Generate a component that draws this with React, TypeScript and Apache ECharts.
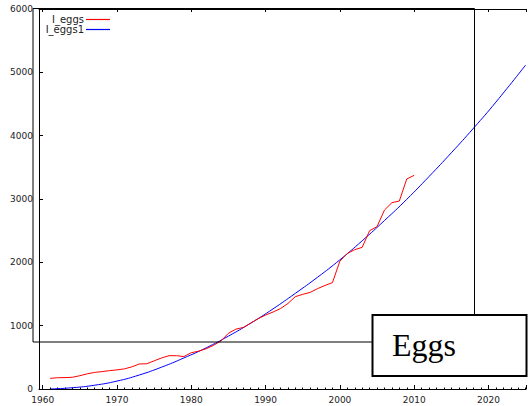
import React, { useEffect, useRef } from "react";
import * as echarts from "echarts";

const eggYears = [
  1961, 1962, 1963, 1964, 1965, 1966, 1967, 1968, 1969, 1970,
  1971, 1972, 1973, 1974, 1975, 1976, 1977, 1978, 1979, 1980,
  1981, 1982, 1983, 1984, 1985, 1986, 1987, 1988, 1989, 1990,
  1991, 1992, 1993, 1994, 1995, 1996, 1997, 1998, 1999, 2000,
  2001, 2002, 2003, 2004, 2005, 2006, 2007, 2008, 2009, 2010,
];
const eggValues = [
  168, 178, 180, 185, 210, 240, 262, 275, 290, 302,
  318, 350, 395, 398, 445, 490, 526, 526, 512, 573,
  598, 635, 690, 760, 880, 945, 972, 1040, 1110, 1168,
  1215, 1270, 1350, 1458, 1495, 1525, 1585, 1635, 1680, 2020,
  2140, 2200, 2237, 2500, 2563, 2826, 2942, 2968, 3316, 3374,
];
const fitYears = [
  1961, 1964, 1967, 1970, 1973, 1976, 1979, 1982, 1985, 1988, 1991,
  1994, 1997, 2000, 2003, 2006, 2009, 2012, 2015, 2018, 2021, 2025,
];
const fitValues = [
  0, 20, 60, 125, 221, 345, 490, 650, 835, 1040, 1265,
  1510, 1765, 2040, 2340, 2660, 2995, 3355, 3730, 4120, 4530, 5115,
];

const seriesNames = ["I_eggs", "I_eggs1"];
const seriesColors = ["#ff0000", "#0000ff"];
const boxLabel = "Eggs";

export default function App() {
  const ref = useRef<HTMLDivElement>(null);
  useEffect(() => {
    if (!ref.current) return;
    const chart = echarts.init(ref.current, null, { renderer: "svg" });
    const labelStyle = { fontSize: 9, color: "#222", fontFamily: "DejaVu Sans" };
    const xFmt = (v: number) => (Math.abs(v - Math.round(v / 10) * 10) < 1e-6 ? String(Math.round(v)) : "");
    chart.setOption({
      animation: false,
      backgroundColor: "#fff",
      grid: { left: 39, right: 1, top: 9, bottom: 17, containLabel: false },
      xAxis: [
        {
          type: "value",
          position: "bottom",
          min: 1959.5,
          max: 2025.05,
          splitNumber: 7,
          axisLine: { show: true, lineStyle: { color: "#000", width: 1 } },
          axisTick: { show: true, inside: true, length: 4, lineStyle: { color: "#000" } },
          minorTick: { show: true, splitNumber: 10, length: 1.5, lineStyle: { color: "#000" } },
          splitLine: { show: false },
          axisLabel: { ...labelStyle, margin: 6, formatter: xFmt },
        },
        {
          type: "value",
          position: "top",
          min: 1959.5,
          max: 2025.05,
          splitNumber: 7,
          axisLine: { show: true, lineStyle: { color: "#000", width: 1 } },
          axisTick: { show: true, inside: true, length: 3, lineStyle: { color: "#000" } },
          splitLine: { show: false },
          axisLabel: { show: false },
        },
      ],
      yAxis: {
        type: "value",
        min: 0,
        max: 6000,
        interval: 1000,
        axisLine: { show: true, lineStyle: { color: "#000", width: 1 } },
        axisTick: { show: true, inside: true, length: 4, lineStyle: { color: "#000" } },
        splitLine: { show: false },
        axisLabel: { ...labelStyle, margin: 6, formatter: (v: number) => String(v) },
      },
      series: [
        {
          name: seriesNames[0],
          type: "line",
          data: eggYears.map((y, i) => [y, eggValues[i]]),
          showSymbol: false,
          lineStyle: { color: seriesColors[0], width: 1 },
          itemStyle: { color: seriesColors[0] },
          z: 3,
        },
        {
          name: seriesNames[1],
          type: "line",
          data: fitYears.map((y, i) => [y, fitValues[i]]),
          smooth: true,
          showSymbol: false,
          lineStyle: { color: seriesColors[1], width: 1 },
          itemStyle: { color: seriesColors[1] },
          z: 2,
        },
      ],
      graphic: {
        elements: [
          { type: "polyline", z: 50, shape: { points: [[474.5, 342], [33, 342], [33, 8.5], [474.5, 8.5], [474.5, 342]] }, style: { stroke: "#000", fill: null, lineWidth: 1 } },
          {
            type: "rect", z: 60,
            shape: { x: 372.5, y: 315, width: 154, height: 61 },
            style: { fill: "#fff", stroke: "#000", lineWidth: 2 },
          },
          {
            type: "text", z: 61, x: 392, y: 345,
            style: { text: boxLabel, fontSize: 32, fontFamily: "Liberation Serif", fill: "#000", align: "left", verticalAlign: "middle" },
          },
          {
            type: "text", z: 61, x: 84, y: 19.5,
            style: { text: seriesNames[0], fontSize: 10, fontFamily: "DejaVu Sans", fill: "#222", align: "right", verticalAlign: "middle" },
          },
          {
            type: "text", z: 61, x: 84, y: 29.5,
            style: { text: seriesNames[1], fontSize: 10, fontFamily: "DejaVu Sans", fill: "#222", align: "right", verticalAlign: "middle" },
          },
          { type: "polyline", z: 100, shape: { points: [[86, 19.5], [110, 19.5]] }, style: { stroke: seriesColors[0], fill: null, lineWidth: 1.2 } },
          { type: "polyline", z: 100, shape: { points: [[86, 29.5], [110, 29.5]] }, style: { stroke: seriesColors[1], fill: null, lineWidth: 1.2 } },
        ],
      },
    });
    return () => chart.dispose();
  }, []);
  return (
    <div
      ref={ref}
      style={{ position: "fixed", left: 0, top: 0, width: 529, height: 406 }}
    />
  );
}
